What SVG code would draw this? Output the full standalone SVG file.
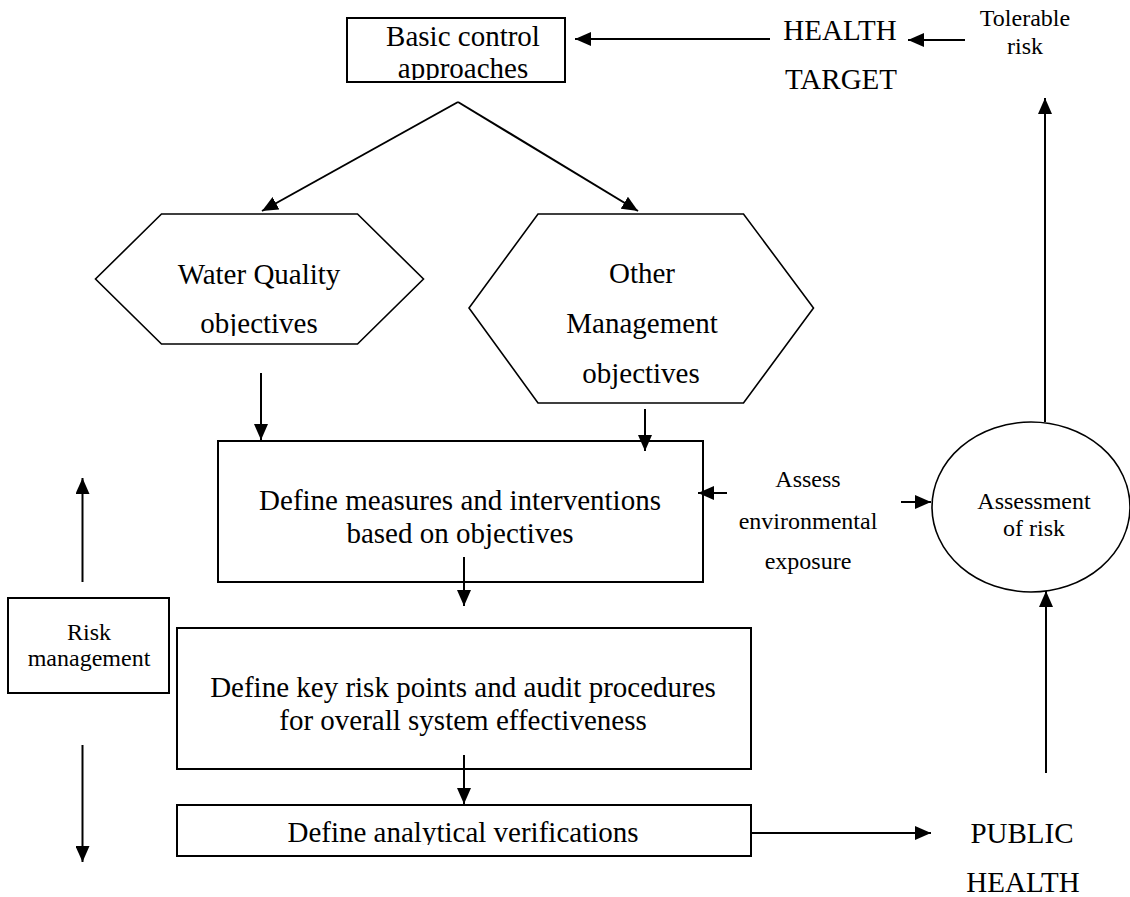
<svg xmlns="http://www.w3.org/2000/svg" width="1130" height="897" viewBox="0 0 1130 897">
<style>
text{font-family:"Liberation Serif","Times New Roman",serif;fill:#000;text-anchor:middle}
.big{font-size:29px}
.sm{font-size:24px}
.shape{fill:#fff;stroke:#000;stroke-width:2}
.thin{fill:#fff;stroke:#000;stroke-width:1.6}
.conn line{stroke:#000;stroke-width:2;marker-end:url(#ah)}
</style>
<defs>
<marker id="ah" markerUnits="userSpaceOnUse" markerWidth="16" markerHeight="14" refX="16" refY="7" orient="auto">
<path d="M0,0 L16,7 L0,14 Z" fill="#000"/>
</marker>
<clipPath id="c1"><rect x="347" y="18" width="218" height="62"/></clipPath>
<clipPath id="c2"><rect x="150" y="300" width="220" height="36"/></clipPath>
<clipPath id="c3"><rect x="177" y="805" width="574" height="40"/></clipPath>
</defs>
<rect width="1130" height="897" fill="#fff"/>

<g id="basic">
<rect class="shape" x="347" y="18" width="218" height="64"/>
<g clip-path="url(#c1)">
<text class="big" x="463" y="46">Basic control</text>
<text class="big" x="463" y="78">approaches</text>
</g>
</g>

<g id="health-target">
<text class="big" x="840" y="40">HEALTH</text>
<text class="big" x="841" y="89">TARGET</text>
</g>

<g id="tolerable">
<text class="sm" x="1025" y="26">Tolerable</text>
<text class="sm" x="1025" y="54">risk</text>
</g>

<g id="water">
<polygon class="thin" points="161.5,214 357.5,214 423.5,279 357.5,344 161.5,344 95.5,279"/>
<text class="big" x="259" y="284">Water Quality</text>
<g clip-path="url(#c2)"><text class="big" x="259" y="333">objectives</text></g>
</g>

<g id="other">
<polygon class="thin" points="538,214 743.5,214 813.5,308 743.5,403 538,403 469,308"/>
<text class="big" x="642" y="283">Other</text>
<text class="big" x="642" y="333">Management</text>
<text class="big" x="641" y="383">objectives</text>
</g>

<g id="measures">
<rect class="shape" x="218" y="441" width="485" height="141"/>
<text class="big" x="460" y="510">Define measures and interventions</text>
<text class="big" x="460" y="543">based on objectives</text>
</g>

<g id="assess-env">
<text class="sm" x="808" y="487">Assess</text>
<text class="sm" x="808" y="529">environmental</text>
<text class="sm" x="808" y="569">exposure</text>
</g>

<g id="assessment">
<ellipse class="thin" cx="1031" cy="507" rx="99" ry="85"/>
<text class="sm" x="1034" y="509">Assessment</text>
<text class="sm" x="1034" y="536">of risk</text>
</g>

<g id="riskmgmt">
<rect class="shape" x="8" y="598" width="161" height="95"/>
<text class="sm" x="89" y="640">Risk</text>
<text class="sm" x="89" y="666">management</text>
</g>

<g id="keyrisk">
<rect class="shape" x="177" y="628" width="574" height="141"/>
<text class="big" x="463" y="697">Define key risk points and audit procedures</text>
<text class="big" x="463" y="730">for overall system effectiveness</text>
</g>

<g id="analytical">
<rect class="shape" x="177" y="805" width="574" height="51"/>
<g clip-path="url(#c3)"><text class="big" x="463" y="842">Define analytical verifications</text></g>
</g>

<g id="public-health">
<text class="big" x="1022" y="843">PUBLIC</text>
<text class="big" x="1023" y="892">HEALTH</text>
</g>

<g class="conn" id="connectors">
<line x1="770" y1="39" x2="575" y2="39"/>
<line x1="965" y1="40" x2="908" y2="40"/>
<line x1="458" y1="102" x2="262" y2="211"/>
<line x1="458" y1="102" x2="638" y2="211"/>
<line x1="261" y1="373" x2="261" y2="440"/>
<line x1="645" y1="409" x2="645" y2="451"/>
<line x1="464" y1="557" x2="464" y2="606"/>
<line x1="464" y1="755" x2="464" y2="804"/>
<line x1="727" y1="493" x2="698" y2="493"/>
<line x1="901" y1="502" x2="931" y2="502"/>
<line x1="751" y1="833" x2="931" y2="833"/>
<line x1="1046" y1="773" x2="1046" y2="591"/>
<line x1="1045" y1="422" x2="1045" y2="98"/>
<line x1="82.5" y1="582" x2="82.5" y2="478"/>
<line x1="82.5" y1="745" x2="82.5" y2="862"/>
</g>
</svg>
